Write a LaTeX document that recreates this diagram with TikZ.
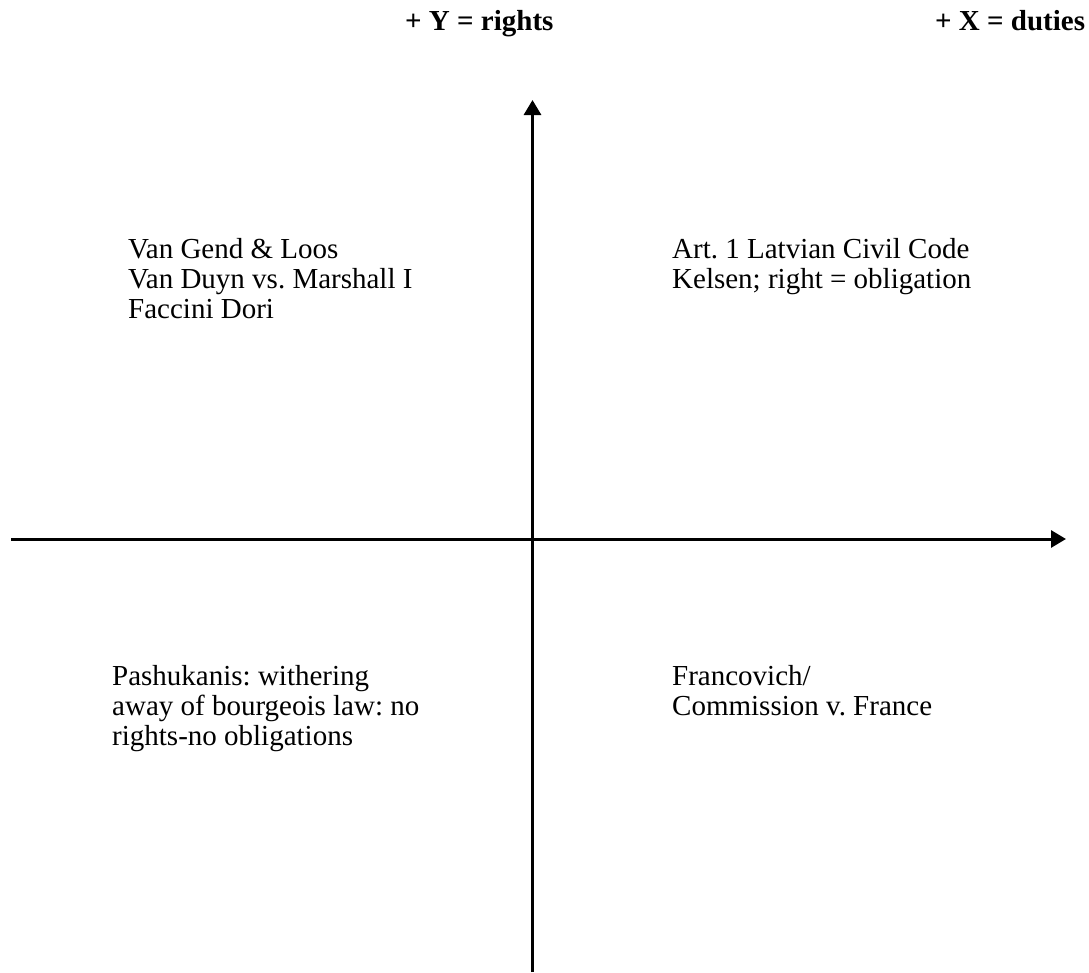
\documentclass[tikz,border=0pt]{standalone}
\usepackage{fontspec}
\setmainfont{Liberation Serif}
\usetikzlibrary{arrows.meta}
\frenchspacing
\tikzset{
  axis/.style={line width=3pt, -{Triangle[length=15pt,width=17pt]}},
  quadtext/.style={anchor=base west, inner sep=0pt, align=left,
    font=\fontsize{29pt}{30pt}\selectfont},
  headtext/.style={anchor=base west, inner sep=0pt,
    font=\fontsize{29pt}{30pt}\selectfont\bfseries}
}
\begin{document}
\begin{tikzpicture}[x=1pt,y=-1pt]
\useasboundingbox (0,0) rectangle (1089,972);
% axis end points
\coordinate (xl) at (11,539);
\coordinate (xr) at (1066,539);
\coordinate (yb) at (532.5,972);
\coordinate (yt) at (532.5,100);
\draw[axis] (xl) -- (xr);
\draw[axis] (yb) -- (yt);
% headers
\node[headtext] (hy) at (405,30) {+ Y = rights};
\node[headtext] (hx) at (935,30) {+ X = duties};
% quadrant texts (anchored at the baseline of the last line)
\node[quadtext] (q2) at (128,318) {Van Gend \& Loos\\Van Duyn vs. Marshall I\\Faccini Dori};
\node[quadtext] (q1) at (672,288) {Art. 1 Latvian Civil Code\\Kelsen; right = obligation};
\node[quadtext] (q3) at (112,745) {Pashukanis: withering\\away of bourgeois law: no\\rights-no obligations};
\node[quadtext] (q4) at (672,715) {Francovich/\\Commission v. France};
\end{tikzpicture}
\end{document}
